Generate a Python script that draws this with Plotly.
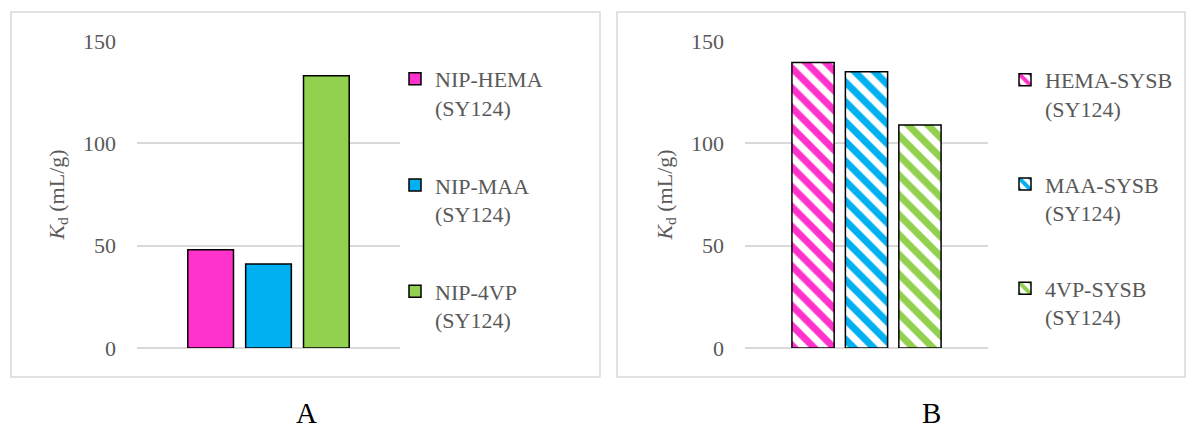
import plotly.graph_objects as go

W, H = 1195, 428

# Data
cat = ["SY124"]
names_a = ["NIP-HEMA<br>(SY124)", "NIP-MAA<br>(SY124)", "NIP-4VP<br>(SY124)"]
values_a = [48, 41, 133]
names_b = ["HEMA-SYSB<br>(SY124)", "MAA-SYSB<br>(SY124)", "4VP-SYSB<br>(SY124)"]
values_b = [139.5, 135, 109]
colors = ["#ff33cc", "#00b0f0", "#92d050"]
yticks = [0, 50, 100, 150]

FONT = "Liberation Serif, Times New Roman, serif"
GRAY = "#595959"
GRID = "#d9d9d9"

def px(x):
    return x / W

def py(y):
    return 1 - y / H

fig = go.Figure()

for i, (n, v, c) in enumerate(zip(names_a, values_a, colors)):
    fig.add_trace(go.Bar(x=cat, y=[v], name=n, marker=dict(color=c, line=dict(color="black", width=1.5)),
                         xaxis="x", yaxis="y", legend="legend", legendgroup="a%d" % i))

for i, (n, v, c) in enumerate(zip(names_b, values_b, colors)):
    fig.add_trace(go.Bar(x=cat, y=[v], name=n,
                         marker=dict(color="white", line=dict(color="black", width=1.5),
                                     pattern=dict(shape="\\", fgcolor=c, bgcolor="white", size=14,
                                                  solidity=0.5, fgopacity=1)),
                         xaxis="x2", yaxis="y2", legend="legend2", legendgroup="b%d" % i))

yax = dict(range=[0, 150], tickvals=yticks, showgrid=True, gridcolor=GRID, gridwidth=1.5,
           zeroline=True, zerolinecolor=GRID, zerolinewidth=1.5, showline=False, ticks="",
           tickfont=dict(family=FONT, size=22, color=GRAY), ticklabelstandoff=20,
           title=dict(text="<i>K</i><sub>d</sub> (mL/g)", font=dict(family=FONT, size=22, color=GRAY), standoff=12),
           domain=[py(348), py(41)], automargin=False)
xax = dict(showticklabels=False, showgrid=False, zeroline=False, showline=False, ticks="", automargin=False)

legfont = dict(family=FONT, size=22, color=GRAY)
fig.update_layout(
    width=W, height=H, margin=dict(l=0, r=0, t=0, b=0, autoexpand=False),
    paper_bgcolor="white", plot_bgcolor="white",
    barmode="group",
    xaxis=dict(xax, domain=[px(137), px(400)], anchor="y"),
    yaxis=dict(yax, anchor="x"),
    xaxis2=dict(xax, domain=[px(745), px(988)], anchor="y2"),
    yaxis2=dict(yax, anchor="x2"),
    bargap=0.34, bargroupgap=0.21,
    legend=dict(x=px(395), y=py(58), xanchor="left", yanchor="top", font=legfont, valign="top",
                traceorder="grouped", tracegroupgap=46, bgcolor="rgba(0,0,0,0)", itemwidth=30),
    legend2=dict(x=px(1005), y=py(59), xanchor="left", yanchor="top", font=legfont, valign="top",
                 traceorder="grouped", tracegroupgap=44, bgcolor="rgba(0,0,0,0)", itemwidth=30),
    shapes=[
        dict(type="rect", xref="paper", yref="paper", x0=px(11), x1=px(600), y0=py(377), y1=py(12),
             line=dict(color=GRID, width=1.5)),
        dict(type="rect", xref="paper", yref="paper", x0=px(617), x1=px(1185), y0=py(377), y1=py(12),
             line=dict(color=GRID, width=1.5)),
    ],
    annotations=[
        dict(text="A", x=px(306), y=py(413), xref="paper", yref="paper", showarrow=False,
             xanchor="center", yanchor="middle", font=dict(family=FONT, size=29, color="black")),
        dict(text="B", x=px(932), y=py(413), xref="paper", yref="paper", showarrow=False,
             xanchor="center", yanchor="middle", font=dict(family=FONT, size=29, color="black")),
    ],
)

fig.write_html("out.html", config={"displayModeBar": False},
               post_script="document.body.style.margin='0';")
